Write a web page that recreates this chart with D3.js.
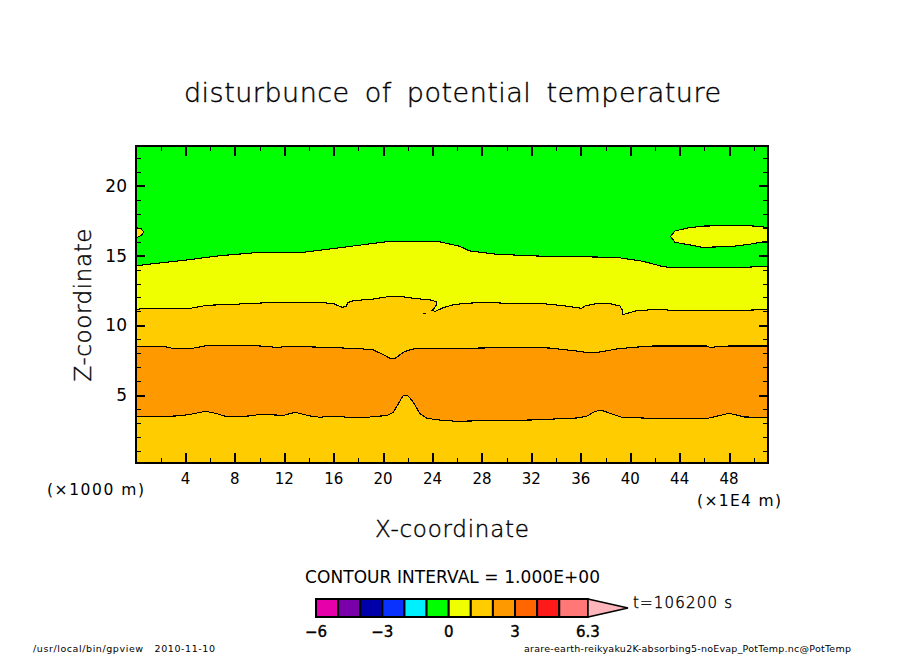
<!DOCTYPE html>
<html>
<head>
<meta charset="utf-8">
<script src="https://cdn.jsdelivr.net/npm/d3@7"></script>
<style>
  html, body { margin: 0; padding: 0; background: #fff; }
  text { font-family: "DejaVu Sans", sans-serif; fill: #000; }
  .axis path { display: none; }
  .axis line { stroke: #000; shape-rendering: crispEdges; }
</style>
</head>
<body>
<div id="graph"></div>
<script>
/* Constant definitions */
const WIDTH = 904
const HEIGHT = 654
const PLOT = {left: 136, right: 768, top: 146, bottom: 463}

/* Axis ticks */
const xMajor = [4, 8, 12, 16, 20, 24, 28, 32, 36, 40, 44, 48]
const xMinor = [2, 6, 10, 14, 18, 22, 26, 30, 34, 38, 42, 46, 50]
const zMajor = [5, 10, 15, 20]
const zMinor = [1, 2, 3, 4, 6, 7, 8, 9, 11, 12, 13, 14, 16, 17, 18, 19, 21, 22]

/* Contours, [x, z] */
const contourTop = [[0,14.28],[4.1,14.69],[6.8,15.0],[9.5,15.2],[13.5,15.24],[16.3,15.55],[20.3,16.0],[24.4,16.03],[26.2,15.67],[27,15.34],[29.2,15.1],[32.9,14.96],[38.9,14.88],[41,14.6],[42.7,14.2],[44,14.12],[48.9,14.14],[51.2,14.26]]
const contourUpper = [[0,11.1],[0.5,11.22],[4.4,11.22],[5.76,11.44],[7.91,11.51],[9.52,11.58],[11.41,11.65],[14.92,11.65],[16,11.55],[16.67,11.3],[17.02,11.34],[17.12,11.63],[17.61,11.77],[19.22,11.89],[20.57,12.08],[21.38,12.08],[22.46,11.94],[23.81,11.82],[24.29,11.7],[24.35,11.53],[24.13,11.22],[23.94,11.08],[24.21,11.0],[24.88,11.27],[25.69,11.48],[26.64,11.58],[28.39,11.65],[30.01,11.58],[32.7,11.58],[34.58,11.41],[36.07,11.22],[36.34,11.39],[37.41,11.58],[38.36,11.55],[39.17,11.39],[39.35,11.1],[39.38,10.79],[39.57,10.81],[40.52,11.05],[42.26,11.15],[43.35,11.08],[49.41,11.08],[51.2,11.15]]
const contourMiddle = [[0,8.49],[2.25,8.49],[2.93,8.35],[4.54,8.35],[5.89,8.57],[9.26,8.57],[11.41,8.42],[12.49,8.49],[15.46,8.42],[18.15,8.32],[19.22,8.23],[20.03,7.89],[20.57,7.63],[20.98,7.63],[21.65,8.07],[22.19,8.25],[22.73,8.35],[26.23,8.35],[31.62,8.42],[33.51,8.37],[35.8,8.14],[36.6,8.04],[37.41,8.07],[38.9,8.3],[40.24,8.42],[41.86,8.52],[46.18,8.52],[46.44,8.42],[48.06,8.52],[51.2,8.52]]
const contourLower = [[0,3.47],[3.19,3.49],[4.27,3.59],[5.62,3.83],[6.43,3.69],[7.24,3.47],[9.12,3.49],[10.06,3.61],[11.95,3.54],[12.89,3.76],[14.11,3.49],[14.92,3.4],[15.46,3.47],[16.67,3.47],[16.94,3.4],[18.82,3.4],[19.22,3.47],[20.31,3.51],[20.84,3.78],[21.25,4.4],[21.6,4.93],[21.98,4.98],[22.41,4.52],[23,3.64],[23.54,3.33],[24.48,3.21],[25.69,3.13],[26.77,3.13],[32.16,3.21],[35.67,3.35],[36.47,3.47],[37.15,3.83],[37.69,3.9],[38.22,3.73],[39.3,3.4],[41.59,3.33],[46.3,3.33],[46.98,3.47],[48,3.69],[49.27,3.42],[51.2,3.4]]
const blobLeft = [[0,17.01],[0.42,16.92],[0.63,16.68],[0.42,16.46],[0,16.25]]
const blobRight = [[51.2,17.02],[49.68,17.15],[46.04,17.13],[44.66,16.99],[43.61,16.77],[43.27,16.38],[43.61,15.96],[44.95,15.75],[45.8,15.6],[48.1,15.65],[49.68,15.82],[51.2,16.06]]
const dash = [[23.24,10.86],[23.5,10.86]]

/* Colour bar */
const barLevels = [-6, -5, -4, -3, -2, -1, 0, 1, 2, 3, 4, 5, 6.3]
const barColors = ["#e600aa", "#7a00aa", "#0000aa", "#0a32ff", "#00f0ff", "#00ff00", "#f0ff00", "#ffcc00", "#ff9900", "#ff6600", "#ff1a1a", "#ff7777"]
const barLabels = [-6, -3, 0, 3, 6.3]
const ARROW_COLOR = "#ffb6bb"

const GREEN = "#00ff00", YELLOW = "#f0ff00", GOLD = "#ffcc00", ORANGE = "#ff9900", BLOB_GOLD = "#fde400"

const xScale = d3.scaleLinear().domain([0, 51.15]).range([PLOT.left, PLOT.right])
const zScale = d3.scaleLinear().domain([0.12, 22.87]).range([PLOT.bottom, PLOT.top])
const barScale = d3.scaleLinear().domain([-6, 6.3]).range([316, 588])

const canvas = d3.select("#graph")
                 .append("svg")
                 .attr("width", WIDTH)
                 .attr("height", HEIGHT)
                 .style("display", "block")

canvas.append("clipPath").attr("id", "plot-clip")
      .append("rect")
      .attr("x", PLOT.left).attr("y", PLOT.top)
      .attr("width", PLOT.right - PLOT.left).attr("height", PLOT.bottom - PLOT.top)

const plot = canvas.append("g").attr("clip-path", "url(#plot-clip)")

plot.append("rect")
    .attr("x", PLOT.left).attr("y", PLOT.top)
    .attr("width", PLOT.right - PLOT.left).attr("height", PLOT.bottom - PLOT.top)
    .attr("fill", GREEN)

/* Filled bands, painted from the top down */
const band = d3.area().x((d) => xScale(d[0])).y1((d) => zScale(d[1])).y0(PLOT.bottom)
const contourLine = d3.line().x((d) => xScale(d[0])).y((d) => zScale(d[1]))

const bands = [[contourTop, YELLOW], [contourUpper, GOLD], [contourMiddle, ORANGE], [contourLower, GOLD]]
bands.forEach((b) => {
  plot.append("path").attr("d", band(b[0])).attr("fill", b[1])
})
plot.append("path").attr("d", contourLine(blobLeft) + "Z").attr("fill", BLOB_GOLD)
plot.append("path").attr("d", contourLine(blobRight) + "Z").attr("fill", YELLOW)
;[contourTop, contourUpper, contourMiddle, contourLower, blobLeft, blobRight, dash].forEach((c) => {
  plot.append("path")
      .attr("d", contourLine(c))
      .attr("fill", "none")
      .attr("stroke", "#000")
      .attr("stroke-width", 1.1)
      .attr("shape-rendering", "crispEdges")
})

/* Axes: ticks point inward on all four sides */
const addAxis = (axis, translate, size, width) => {
  const g = canvas.append("g")
        .attr("class", "axis")
        .attr("transform", translate)
        .call(axis.tickSizeInner(-size).tickSizeOuter(0).tickFormat(""))
  g.selectAll("line").attr("stroke-width", width)
  return g
}
const bottomT = "translate(0," + PLOT.bottom + ")", topT = "translate(0," + PLOT.top + ")"
const leftT = "translate(" + PLOT.left + ",0)", rightT = "translate(" + PLOT.right + ",0)"
addAxis(d3.axisBottom(xScale).tickValues(xMajor), bottomT, 10, 2)
addAxis(d3.axisBottom(xScale).tickValues(xMinor), bottomT, 5, 1)
addAxis(d3.axisTop(xScale).tickValues(xMajor), topT, 10, 2)
addAxis(d3.axisTop(xScale).tickValues(xMinor), topT, 5, 1)
addAxis(d3.axisLeft(zScale).tickValues(zMajor), leftT, 9, 2)
addAxis(d3.axisLeft(zScale).tickValues(zMinor), leftT, 5, 1)
addAxis(d3.axisRight(zScale).tickValues(zMajor), rightT, 9, 2)
addAxis(d3.axisRight(zScale).tickValues(zMinor), rightT, 5, 1)

canvas.append("rect")
      .attr("x", PLOT.left).attr("y", PLOT.top)
      .attr("width", PLOT.right - PLOT.left).attr("height", PLOT.bottom - PLOT.top)
      .attr("fill", "none")
      .attr("stroke", "#000")
      .attr("stroke-width", 2)
      .attr("shape-rendering", "crispEdges")

/* Text helper: the width is fixed to the reference's */
const label = (str, x, y, size, length, anchor) => {
  const t = canvas.append("text")
        .attr("x", x).attr("y", y)
        .attr("font-size", size)
        .attr("text-anchor", anchor || "middle")
        .text(str)
  if (length) t.attr("textLength", length).attr("lengthAdjust", "spacing")
  return t
}
/* the thin labels come out grey without a hairline stroke */
const thin = (t) => t.attr("font-weight", 200).attr("stroke", "#000").attr("stroke-width", 0.4)

xMajor.forEach((d) => {
  label(d, xScale(d), 484, 15)
})
zMajor.forEach((d) => {
  label(d, 127, zScale(d) + 6, 17, null, "end")
})

thin(label("disturbunce of potential temperature", 452.5, 102, 27, 537)).attr("word-spacing", 6)
thin(label("X-coordinate", 452, 537, 23, 154))
thin(label("Z-coordinate", 0, 0, 23, 153)).attr("transform", "translate(91,305) rotate(-90)")
label("(×1000 m)", 95.5, 495, 15.5, 97)
label("(×1E4 m)", 739, 506, 15.5, 84)
label("CONTOUR INTERVAL = 1.000E+00", 452.5, 583, 17, 295)
thin(label("t=106200 s", 682.5, 608, 15, 99))
label("/usr/local/bin/gpview   2010-11-10", 124, 652, 9.5, 182).attr("xml:space", "preserve")
label("arare-earth-reikyaku2K-absorbing5-noEvap_PotTemp.nc@PotTemp", 687.5, 652, 9.5, 327)

/* Colour bar with the arrow at the top end */
const bar = canvas.append("g")
const BAR_TOP = 599, BAR_BOTTOM = 617
bar.selectAll("rect")
   .data(barColors)
   .enter()
   .append("rect")
   .attr("x", (d, i) => barScale(barLevels[i]))
   .attr("y", BAR_TOP)
   .attr("width", (d, i) => barScale(barLevels[i + 1]) - barScale(barLevels[i]))
   .attr("height", BAR_BOTTOM - BAR_TOP)
   .attr("fill", (d) => d)
   .attr("stroke", "#000")
   .attr("stroke-width", 2)
bar.append("path")
   .attr("d", d3.line()([[barScale(6.3), BAR_TOP], [628, (BAR_TOP + BAR_BOTTOM) / 2], [barScale(6.3), BAR_BOTTOM]]) + "Z")
   .attr("fill", ARROW_COLOR)
   .attr("stroke", "#000")
   .attr("stroke-width", 1.5)

barLabels.forEach((d) => {
  label(d3.format("")(d), barScale(d), 637, 15).attr("stroke", "#000").attr("stroke-width", 0.4)
})
</script>
</body>
</html>
